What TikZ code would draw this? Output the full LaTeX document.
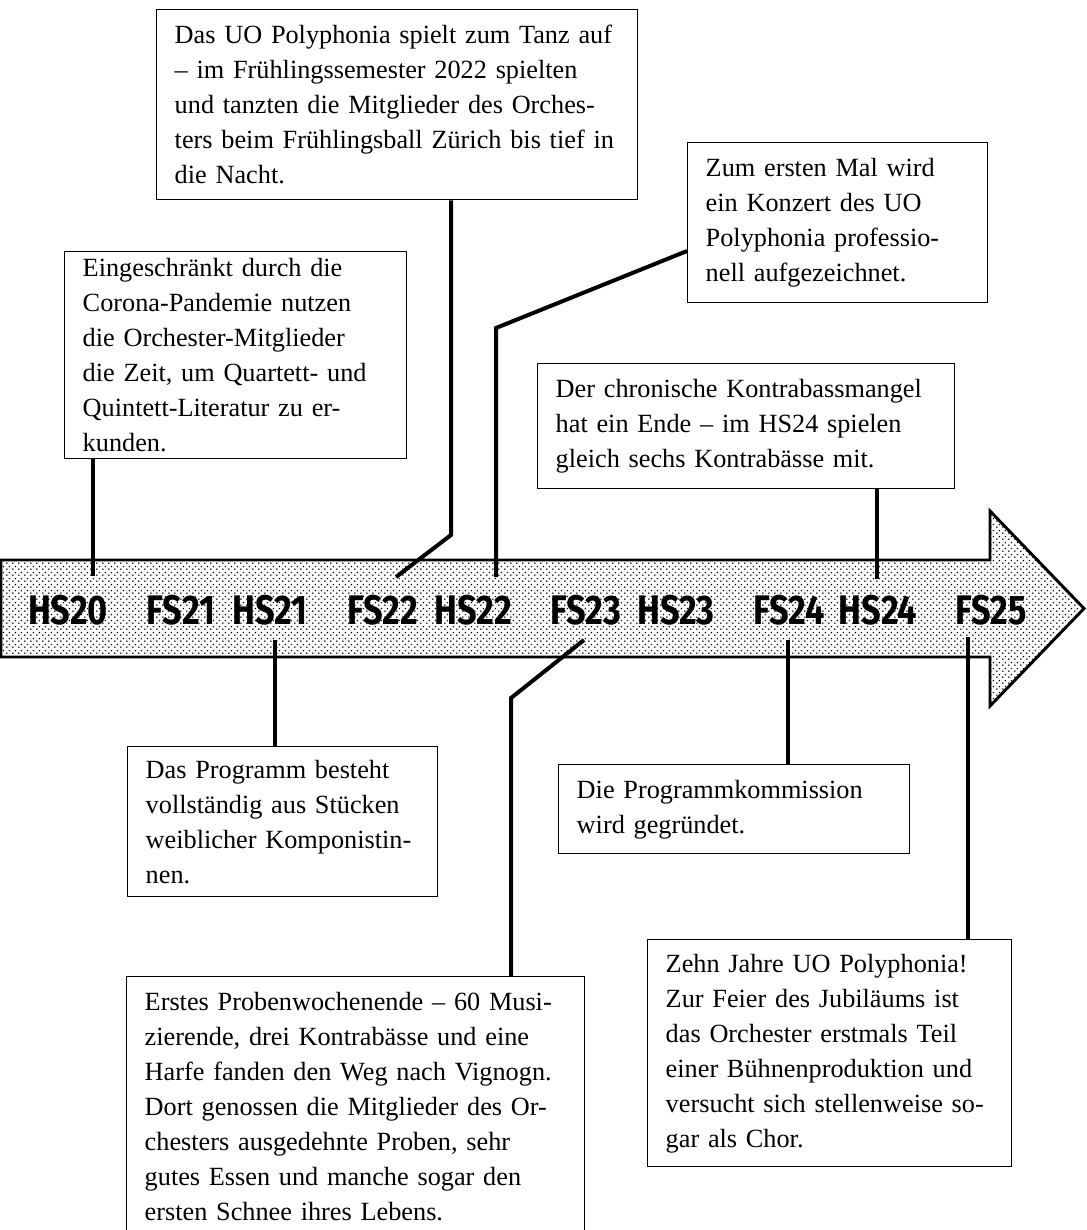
\documentclass[tikz,border=0pt]{standalone}
\usepackage{fontspec}
\setmainfont{Liberation Serif}
\newfontfamily\labelfont[FakeStretch=0.83]{Fira Sans}
\usepackage{tikz}
\usetikzlibrary{patterns}

\pgfdeclarepatternformonly{timeline dots}{\pgfpointorigin}{\pgfqpoint{4.5pt}{4.5pt}}{\pgfqpoint{4.5pt}{4.5pt}}{%
  \pgfpathcircle{\pgfqpoint{0.75pt}{0.75pt}}{0.7pt}%
  \pgfpathcircle{\pgfqpoint{3pt}{3pt}}{0.7pt}%
  \pgfusepath{fill}}

\begin{document}
\begin{tikzpicture}[x=0.75pt,y=0.75pt,yscale=-1,xscale=1,
  event/.style={draw, line width=1.1pt, anchor=north west, align=left, inner xsep=13.5pt, inner ysep=0pt, font=\fontsize{19.7pt}{26.25pt}\selectfont},
  semester/.style={inner sep=0pt, font=\labelfont\bfseries\fontsize{31pt}{31pt}\selectfont},
  link/.style={line width=3pt}]
\useasboundingbox (0,0) rectangle (1087,1230);

%Shape: Arrow
\draw [line width=2.2pt, pattern=timeline dots] (1,560) -- (990,560) -- (990,511) -- (1084,608.5) -- (990,706) -- (990,657) -- (1,657) -- cycle ;

% Semester Nodes
\node [semester] (HS20) at (68,610) {HS20};
\node [semester] (FS21) at (181,610) {FS21};
\node [semester] (HS21) at (270,610) {HS21};
\node [semester] (FS22) at (383,610) {FS22};
\node [semester] (HS22) at (473,610) {HS22};
\node [semester] (FS23) at (586,610) {FS23};
\node [semester] (HS23) at (676,610) {HS23};
\node [semester] (FS24) at (789,610) {FS24};
\node [semester] (HS24) at (878,610) {HS24};
\node [semester] (FS25) at (991,610) {FS25};

% Event Nodes above
\node [event, text width=333.75pt, minimum height=142.5pt] (tanz) at (156,9) {Das UO Polyphonia spielt zum Tanz auf\\
– im Frühlingssemester 2022 spielten\\
und tanzten die Mitglieder des Orches-\\
ters beim Frühlingsball Zürich bis tief in\\
die Nacht.};
\node [event, text width=229.5pt, minimum height=155.25pt] (corona) at (64,251) {Eingeschränkt durch die\\
Corona-Pandemie nutzen\\
die Orchester-Mitglieder\\
die Zeit, um Quartett- und\\
Quintett-Literatur zu er-\\
kunden.};
\node [event, text width=198pt, minimum height=120pt] (mal) at (687,142) {Zum ersten Mal wird\\
ein Konzert des UO\\
Polyphonia professio-\\
nell aufgezeichnet.};
\node [event, text width=285.75pt, minimum height=93.75pt] (kontrabass) at (537,363) {Der chronische Kontrabassmangel\\
hat ein Ende – im HS24 spielen\\
gleich sechs Kontrabässe mit.};

% Event Nodes below
\node [event, text width=205.5pt, minimum height=112.5pt] (programm) at (127,746) {Das Programm besteht\\
vollständig aus Stücken\\
weiblicher Komponistin-\\
nen.};
\node [event, text width=236.25pt, minimum height=66.75pt] (kommission) at (558,764) {Die Programmkommission\\
wird gegründet.};
\node [event, text width=246pt, minimum height=170.25pt] (jubilaeum) at (647,939) {Zehn Jahre UO Polyphonia!\\
Zur Feier des Jubiläums ist\\
das Orchester erstmals Teil\\
einer Bühnenproduktion und\\
versucht sich stellenweise so-\\
gar als Chor.};
\node [event, text width=316.5pt, inner ysep=12pt] (proben) at (126,976) {Erstes Probenwochenende – 60 Musi-\\
zierende, drei Kontrabässe und eine\\
Harfe fanden den Weg nach Vignogn.\\
Dort genossen die Mitglieder des Or-\\
chesters ausgedehnte Proben, sehr\\
gutes Essen und manche sogar den\\
ersten Schnee ihres Lebens.};

% Connector ends
\coordinate (eHS20) at (93,576);
\coordinate (kFS22) at (451,535);
\coordinate (eFS22) at (396,577);
\coordinate (sHS22) at (687,251);
\coordinate (kHS22) at (496,328);
\coordinate (eHS22) at (496,577);
\coordinate (eHS24) at (877,579);
\coordinate (eHS21) at (275,640);
\coordinate (eFS23) at (584,640);
\coordinate (kFS23) at (511,698);
\coordinate (eFS24) at (788,640);
\coordinate (eFS25) at (968,637);

%Straight Lines
\draw [link] (corona.south -| eHS20) -- (eHS20) ;
\draw [link] (tanz.south -| kFS22) -- (kFS22) -- (eFS22) ;
\draw [link] (mal.west |- sHS22) -- (kHS22) -- (eHS22) ;
\draw [link] (kontrabass.south -| eHS24) -- (eHS24) ;
\draw [link] (eHS21) -- (programm.north -| eHS21) ;
\draw [link] (eFS23) -- (kFS23) -- (proben.north -| kFS23) ;
\draw [link] (eFS24) -- (kommission.north -| eFS24) ;
\draw [link] (eFS25) -- (jubilaeum.north -| eFS25) ;

\end{tikzpicture}
\end{document}
